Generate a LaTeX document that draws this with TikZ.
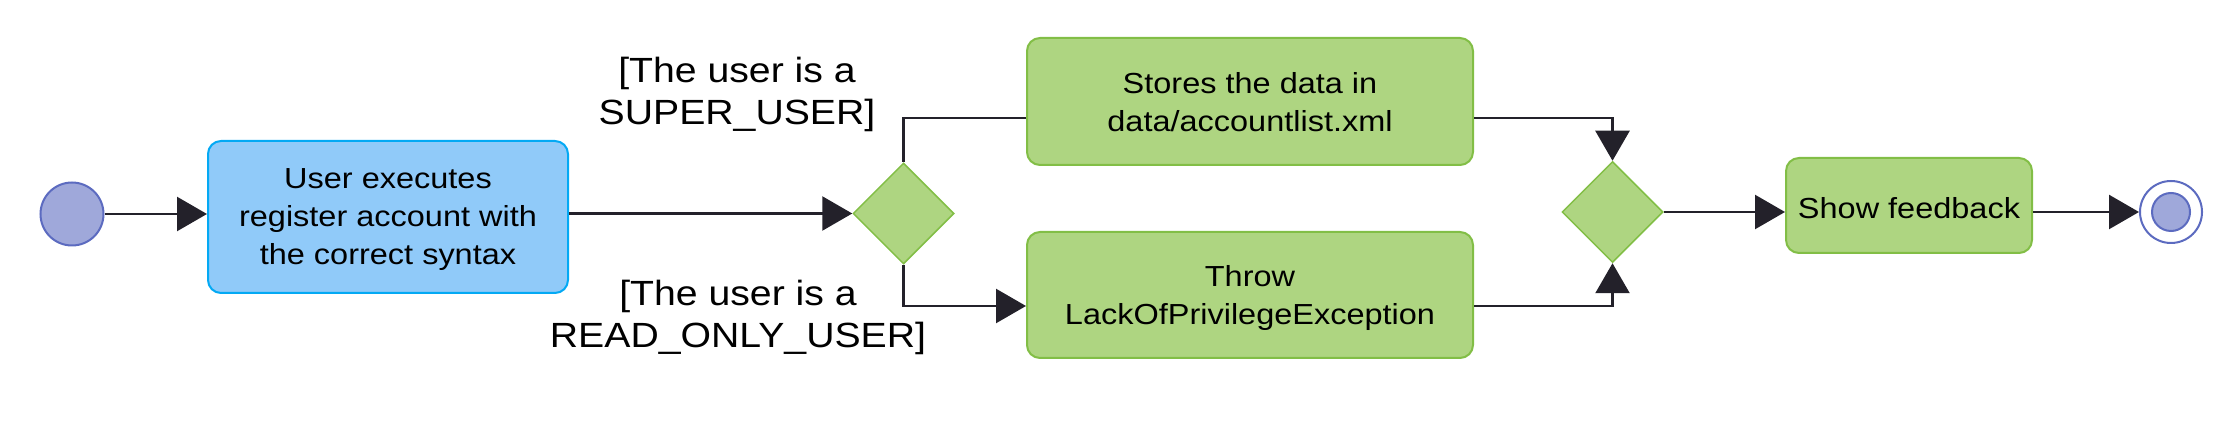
\documentclass[tikz,border=0pt]{standalone}
\usepackage{fontspec}
\setmainfont[FakeStretch=1.12]{Liberation Sans}
\usetikzlibrary{arrows.meta,shapes.geometric,calc}
\definecolor{linec}{RGB}{35,33,42}
\definecolor{gfill}{RGB}{174,213,129}
\definecolor{gdraw}{RGB}{130,190,70}
\definecolor{bfill}{RGB}{144,202,249}
\definecolor{bdraw}{RGB}{3,169,244}
\definecolor{cfill}{RGB}{159,168,218}
\definecolor{cdraw}{RGB}{92,107,192}
\begin{document}
\begin{tikzpicture}[x=1pt,y=-1pt,
  conn/.style={draw=linec, line width=2.5pt},
  arr/.style={conn, -{Triangle[length=30pt,width=34pt]}},
  actbox/.style={rectangle, rounded corners=13pt, line width=2pt, align=center,
    font=\fontsize{29}{38}\selectfont, text depth=0pt, inner sep=0pt},
  greenbox/.style={actbox, fill=gfill, draw=gdraw},
  bluebox/.style={actbox, fill=bfill, draw=bdraw},
  decision/.style={diamond, fill=gfill, draw=gdraw, line width=1.5pt, inner sep=0pt,
    minimum width=101pt, minimum height=101pt},
  lbl/.style={align=center, font=\fontsize{35}{42}\selectfont, inner sep=0pt},
  startc/.style={circle, fill=cfill, draw=cdraw, line width=2pt, inner sep=0pt}
]
\path[use as bounding box] (0,0) rectangle (2236,435);

\node[startc, minimum size=63pt] (start) at (72,214) {};
\node[bluebox, minimum width=360pt, minimum height=152pt] (reg) at (388,217)
  {User executes\\register account with\\the correct syntax};
\node[decision] (d1) at (903.5,213.5) {};
\node[greenbox, minimum width=446pt, minimum height=127pt] (store) at (1250,101.5)
  {Stores the data in\\data/accountlist.xml};
\node[greenbox, minimum width=446pt, minimum height=126pt] (throw) at (1250,295)
  {Throw\\LackOfPrivilegeException};
\node[decision] (d2) at (1612.5,212) {};
\node[greenbox, minimum width=246pt, minimum height=95pt, text height=27pt] (show) at (1909,205.5)
  {Show feedback};
\node[circle, fill=white, draw=cdraw, line width=2pt, inner sep=0pt, minimum size=62pt] (end) at (2171,212) {};
\node[startc, minimum size=38pt] (endin) at (end) {};

\node[lbl, anchor=north] (lsup) at (737,56.5) {[The user is a\\SUPER\_USER]};
\node[lbl, anchor=north] (lro) at (738,279.5) {[The user is a\\READ\_ONLY\_USER]};

\draw[arr] (start.east) -- (start.east -| reg.west);
\draw[arr] (reg.east |- d1.west) -- (d1.west);
\draw[conn] (d1.north) |- ($(store.west)+(0,16.5)$);
\draw[arr] (d1.south) |- ($(throw.west)+(0,11)$);
\draw[arr] ($(store.east)+(0,16.5)$) -| (d2.north);
\draw[arr] ($(throw.east)+(0,11)$) -| (d2.south);
\draw[arr] (d2.east) -- (d2.east -| show.west);
\draw[arr] (show.east |- end.west) -- (end.west);
\end{tikzpicture}
\end{document}
